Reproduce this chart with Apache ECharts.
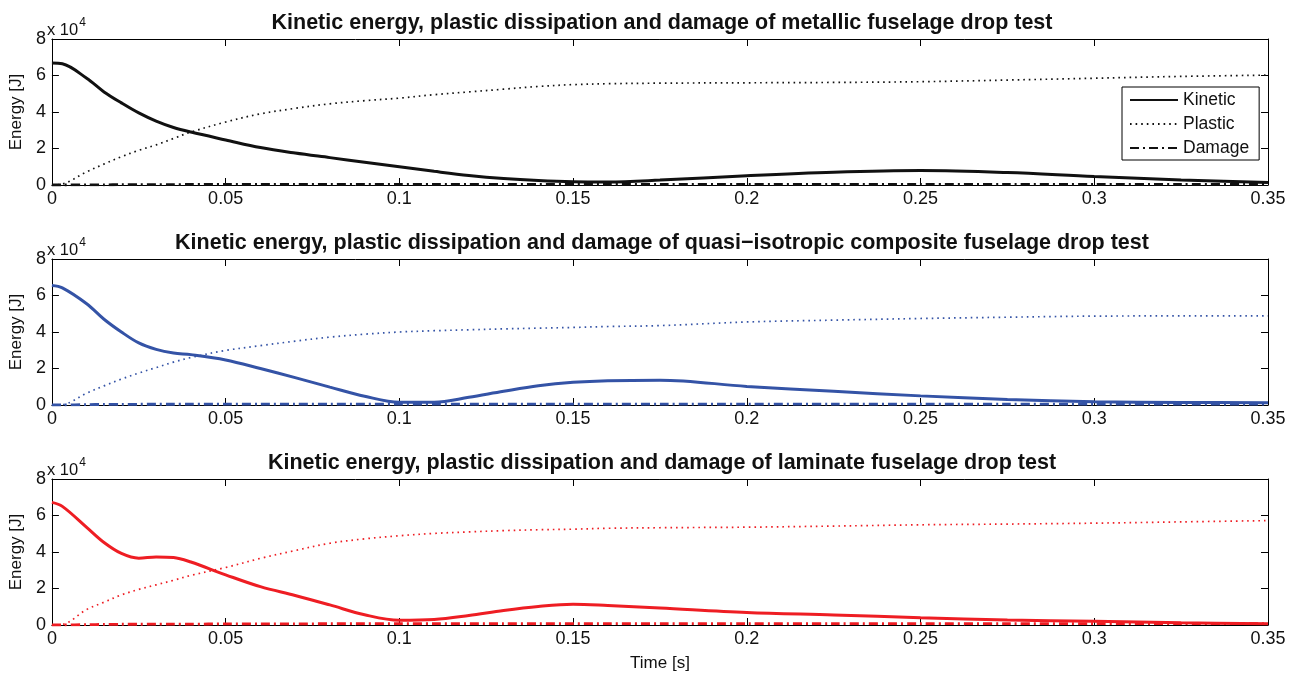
<!DOCTYPE html>
<html><head><meta charset="utf-8">
<script src="https://cdn.jsdelivr.net/npm/echarts@6/dist/echarts.min.js"></script>
<style>html,body{margin:0;padding:0;background:#fff}#c{width:1296px;height:676px}</style>
</head><body><div id="c"></div>
<script>
// time samples [s]
const times = [0, 0.003, 0.01, 0.015, 0.02, 0.025, 0.03, 0.035, 0.04, 0.05, 0.06, 0.07, 0.08, 0.09, 0.1, 0.11, 0.12, 0.13, 0.14, 0.15, 0.16, 0.175, 0.2, 0.225, 0.25, 0.275, 0.3, 0.325, 0.35];
// energies in units of 1e4 J
const metallicKinetic = [6.68, 6.64, 5.85, 5.1, 4.5, 3.95, 3.5, 3.15, 2.9, 2.47, 2.05, 1.75, 1.5, 1.25, 1.0, 0.75, 0.52, 0.35, 0.24, 0.18, 0.17, 0.27, 0.51, 0.7, 0.79, 0.68, 0.46, 0.28, 0.14];
const metallicPlastic = [0, 0.05, 0.72, 1.15, 1.55, 1.9, 2.2, 2.55, 2.9, 3.45, 3.9, 4.2, 4.45, 4.62, 4.76, 4.95, 5.1, 5.25, 5.4, 5.5, 5.55, 5.58, 5.6, 5.62, 5.66, 5.75, 5.85, 5.95, 6.02];
const metallicDamage = [0, 0, 0.01, 0.01, 0.02, 0.02, 0.02, 0.02, 0.03, 0.03, 0.03, 0.03, 0.03, 0.03, 0.03, 0.03, 0.03, 0.03, 0.03, 0.03, 0.03, 0.03, 0.03, 0.03, 0.03, 0.03, 0.03, 0.03, 0.03];
const quasiKinetic = [6.55, 6.42, 5.55, 4.7, 4.0, 3.4, 3.05, 2.85, 2.76, 2.47, 2.0, 1.5, 0.98, 0.48, 0.15, 0.15, 0.42, 0.75, 1.05, 1.24, 1.33, 1.36, 1.02, 0.75, 0.5, 0.3, 0.18, 0.14, 0.13];
const quasiPlastic = [0, 0.02, 0.65, 1.05, 1.42, 1.75, 2.05, 2.35, 2.6, 2.99, 3.25, 3.5, 3.72, 3.88, 4.0, 4.07, 4.12, 4.17, 4.21, 4.25, 4.3, 4.35, 4.55, 4.65, 4.74, 4.81, 4.87, 4.88, 4.88];
const quasiDamage = [0, 0, 0.02, 0.03, 0.03, 0.04, 0.04, 0.04, 0.05, 0.05, 0.05, 0.05, 0.05, 0.05, 0.05, 0.05, 0.05, 0.05, 0.05, 0.05, 0.05, 0.05, 0.05, 0.05, 0.05, 0.05, 0.05, 0.05, 0.05];
const laminateKinetic = [6.72, 6.5, 5.35, 4.52, 3.92, 3.66, 3.73, 3.7, 3.45, 2.75, 2.1, 1.62, 1.1, 0.56, 0.26, 0.3, 0.52, 0.8, 1.02, 1.14, 1.07, 0.93, 0.68, 0.55, 0.4, 0.28, 0.2, 0.12, 0.07];
const laminatePlastic = [0, 0.03, 0.85, 1.25, 1.65, 1.95, 2.2, 2.45, 2.72, 3.15, 3.65, 4.08, 4.48, 4.72, 4.89, 5.02, 5.1, 5.17, 5.22, 5.25, 5.3, 5.33, 5.36, 5.42, 5.49, 5.53, 5.58, 5.65, 5.72];
const laminateDamage = [0, 0, 0.02, 0.03, 0.04, 0.04, 0.05, 0.05, 0.05, 0.06, 0.06, 0.06, 0.07, 0.07, 0.07, 0.07, 0.07, 0.07, 0.07, 0.07, 0.07, 0.07, 0.07, 0.07, 0.07, 0.07, 0.07, 0.07, 0.07];
const titles = [
  'Kinetic energy, plastic dissipation and damage of metallic fuselage drop test',
  'Kinetic energy, plastic dissipation and damage of quasi\u2212isotropic composite fuselage drop test',
  'Kinetic energy, plastic dissipation and damage of laminate fuselage drop test'
];
const seriesNames = ['Kinetic', 'Plastic', 'Damage'];
const xTicks = [0, 0.05, 0.1, 0.15, 0.2, 0.25, 0.3, 0.35];
const yTicks = [0, 2, 4, 6, 8];

const panels = [
  {k: metallicKinetic, p: metallicPlastic, d: metallicDamage, color: '#111111'},
  {k: quasiKinetic, p: quasiPlastic, d: quasiDamage, color: '#3453a6'},
  {k: laminateKinetic, p: laminatePlastic, d: laminateDamage, color: '#ee1d23'}
];
const tops = [39, 259, 479];
const plotH = 146;
const FONT = '"Liberation Sans", Arial, Helvetica, sans-serif';

const grid = [], xAxis = [], yAxis = [], series = [], title = [], graphic = [];
panels.forEach((pn, i) => {
  grid.push({left: 47, right: 28, top: tops[i], height: plotH});
  const mkX = () => ({
    type: 'value', gridIndex: i, min: 0, max: 0.35, interval: 0.05,
    axisLine: {show: true, onZero: false, lineStyle: {color: '#000', width: 1}},
    axisTick: {show: true, inside: true, length: 7, lineStyle: {color: '#000'}},
    splitLine: {show: false}
  });
  xAxis.push(Object.assign(mkX(), {
    position: 'bottom',
    axisLabel: {show: true, fontSize: 18, color: '#111', fontFamily: FONT, margin: 5,
      formatter: v => { const r = xTicks.find(t => Math.abs(t - v) < 1e-9); return r === undefined ? '' : String(r); }},
    name: i === 2 ? 'Time [s]' : '', nameLocation: 'middle', nameGap: 30,
    nameTextStyle: {fontSize: 17, color: '#111', fontFamily: FONT}
  }));
  xAxis.push(Object.assign(mkX(), {position: 'top', axisLabel: {show: false}}));
  const mkY = () => ({
    type: 'value', gridIndex: i, min: 0, max: 8, interval: 2,
    axisLine: {show: true, onZero: false, lineStyle: {color: '#000', width: 1}},
    axisTick: {show: true, inside: true, length: 7, lineStyle: {color: '#000'}},
    splitLine: {show: false}
  });
  yAxis.push(Object.assign(mkY(), {
    position: 'left',
    axisLabel: {show: true, fontSize: 18, color: '#111', fontFamily: FONT, margin: 6,
      formatter: v => yTicks.includes(v) ? String(v) : ''},
    name: 'Energy [J]', nameLocation: 'middle', nameGap: 24,
    nameTextStyle: {fontSize: 17, color: '#111', fontFamily: FONT}
  }));
  yAxis.push(Object.assign(mkY(), {position: 'right', axisLabel: {show: false}}));

  const mk = arr => times.map((t, j) => [t, arr[j]]);
  series.push({
    name: seriesNames[0], type: 'line', xAxisIndex: 2 * i, yAxisIndex: 2 * i,
    data: mk(pn.k), smooth: 0.35, showSymbol: false,
    lineStyle: {color: pn.color, width: 3}, itemStyle: {color: pn.color}, z: 4
  });
  series.push({
    name: seriesNames[1], type: 'line', xAxisIndex: 2 * i, yAxisIndex: 2 * i,
    data: mk(pn.p), smooth: 0.35, showSymbol: false,
    lineStyle: {color: pn.color, width: 1.7, type: [1.6, 4]}, itemStyle: {color: pn.color}, z: 3
  });
  series.push({
    name: seriesNames[2], type: 'line', xAxisIndex: 2 * i, yAxisIndex: 2 * i,
    data: mk(pn.d), smooth: 0.3, showSymbol: false,
    lineStyle: {color: pn.color, width: 2.8, type: [9, 4, 2, 4]}, itemStyle: {color: pn.color}, z: 2
  });

  title.push({
    text: titles[i], left: 657, textAlign: 'center', top: tops[i] - 32,
    textStyle: {fontSize: 21.5, fontWeight: 'bold', color: '#111', fontFamily: FONT}
  });
  graphic.push({
    type: 'text', left: 47, top: tops[i] - 22,
    style: {
      text: '{a|x 10}{b|4}', fontFamily: FONT,
      rich: {
        a: {fontSize: 16.5, fill: '#111', fontFamily: FONT, verticalAlign: 'bottom'},
        b: {fontSize: 12, fill: '#111', fontFamily: FONT, verticalAlign: 'top', padding: [0, 0, 10, 1]}
      }
    }
  });
});

const chart = echarts.init(document.getElementById('c'), null, {renderer: 'canvas'});
chart.setOption({
  animation: false,
  backgroundColor: '#fff',
  title, grid, xAxis, yAxis, series, graphic,
  legend: {
    data: seriesNames, orient: 'vertical', left: 1122, top: 87,
    backgroundColor: '#fff', borderColor: '#000', borderWidth: 1,
    padding: [4, 10, 3, 7], itemGap: 6, itemWidth: 48, itemHeight: 18,
    itemStyle: {opacity: 0},
    lineStyle: {inactiveWidth: 2},
    textStyle: {fontSize: 17.5, color: '#111', fontFamily: FONT}
  }
});
</script></body></html>
